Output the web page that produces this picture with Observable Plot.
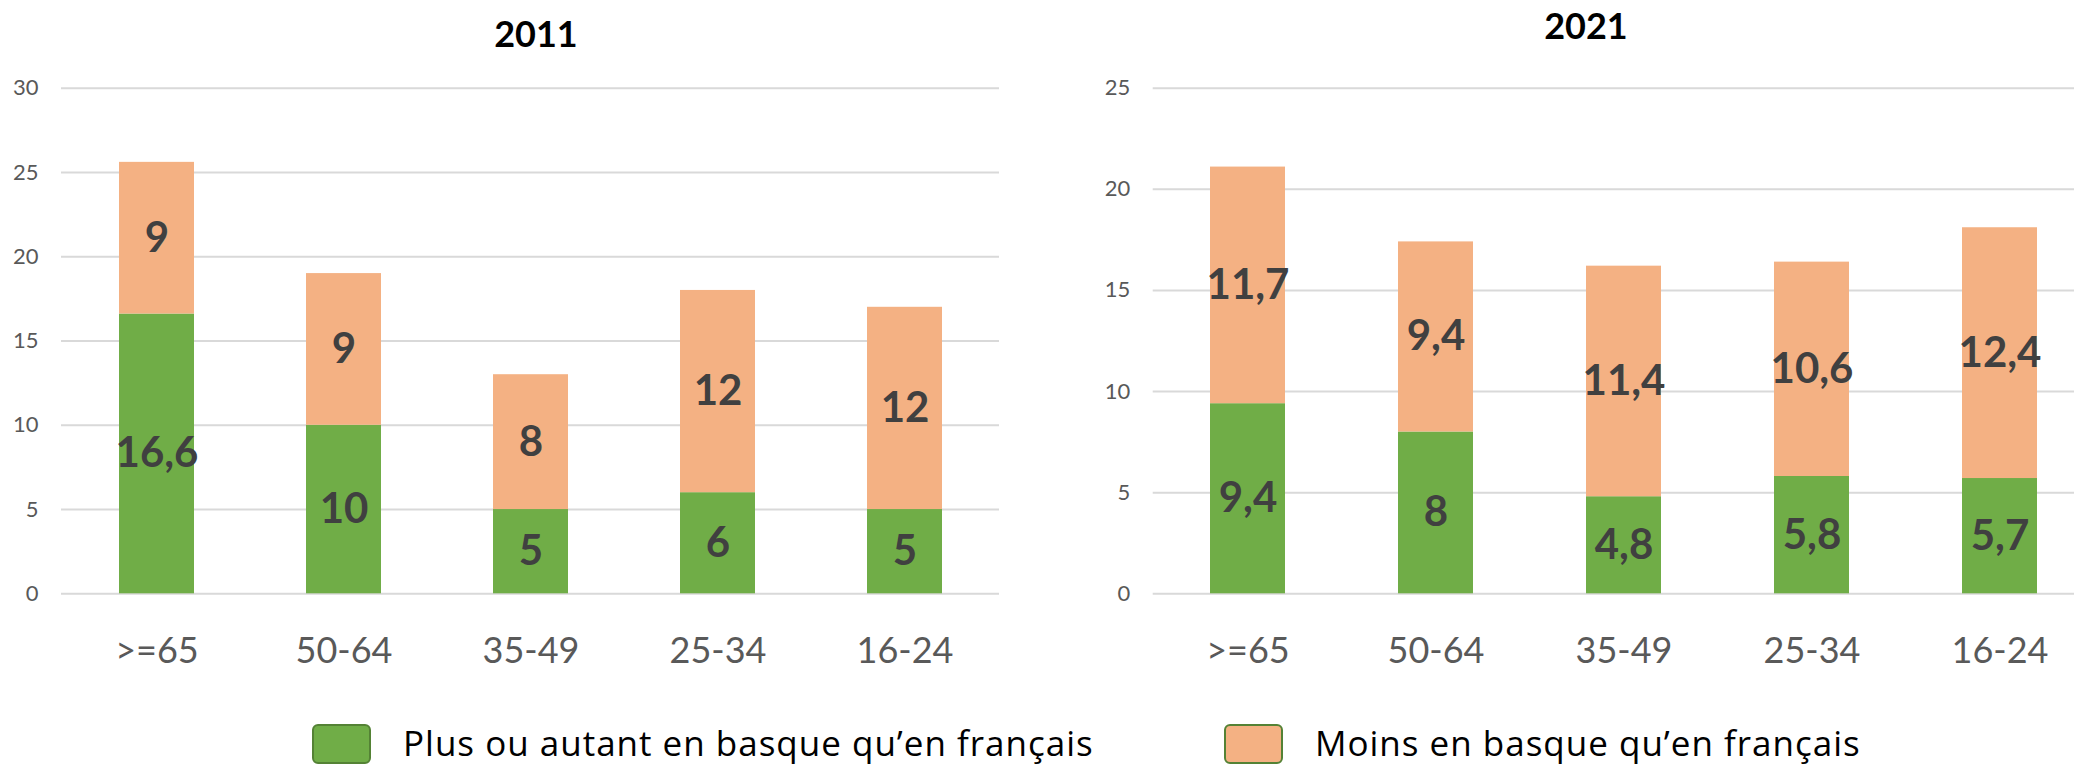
<!DOCTYPE html>
<html><head><meta charset="utf-8">
<script src="https://cdn.jsdelivr.net/npm/d3@7"></script>
<script src="https://cdn.jsdelivr.net/npm/@observablehq/plot@0.6"></script>
<style>
html,body{margin:0;padding:0;background:#fff;}
#root{position:relative;width:2074px;height:765px;overflow:hidden;background:#fff;font-family:Lato,sans-serif;}
.abs{position:absolute;}
.title{position:absolute;font-weight:700;font-size:36px;color:#000;transform:translate(-50%,-50%);line-height:1;white-space:nowrap;}
.sw{position:absolute;box-sizing:border-box;width:59px;height:40px;border:2px solid #548235;border-radius:6px;}
.lt{position:absolute;font-family:"Open Sans",sans-serif;font-size:35px;letter-spacing:1px;color:#000;line-height:1;transform:translateY(-50%);white-space:nowrap;}
</style></head><body>
<div id="root">
  <div id="c1" class="abs" style="left:0;top:0;width:1010px;height:680px"></div>
  <div id="c2" class="abs" style="left:1040px;top:0;width:1060px;height:680px"></div>
  <div id="t1" class="title" style="left:536px;top:33px"></div>
  <div id="t2" class="title" style="left:1586px;top:25px"></div>
  <div id="sw1" class="sw" style="left:312px;top:724px"></div>
  <div id="lt1" class="lt" style="left:403px;top:742px"></div>
  <div id="sw2" class="sw" style="left:1224px;top:724px"></div>
  <div id="lt2" class="lt" style="left:1315px;top:742px"></div>
</div>
<script>
const years = ["2011", "2021"];
const ages = [">=65", "50-64", "35-49", "25-34", "16-24"];
const series = ["Plus ou autant en basque qu’en français", "Moins en basque qu’en français"];
const green2011 = [16.6, 10, 5, 6, 5];
const orange2011 = [9, 9, 8, 12, 12];
const green2021 = [9.4, 8, 4.8, 5.8, 5.7];
const orange2021 = [11.7, 9.4, 11.4, 10.6, 12.4];
const ticks2011 = [0, 5, 10, 15, 20, 25, 30];
const ticks2021 = [0, 5, 10, 15, 20, 25];
const colors = ["#70ad47", "#f4b183"];

const fmt = v => String(v).replace(".", ",");

function chart(green, orange, ticks, o) {
  const data = [];
  ages.forEach((a, i) => data.push({age: a, series: series[0], value: green[i]}));
  ages.forEach((a, i) => data.push({age: a, series: series[1], value: orange[i]}));
  const yMax = ticks[ticks.length - 1];
  return Plot.plot({
    width: o.width, height: 680,
    marginLeft: o.ml, marginRight: o.mr, marginTop: 87.7, marginBottom: 86.7,
    style: {fontFamily: "Lato, sans-serif", background: "transparent", overflow: "visible", maxWidth: "none"},
    x: {domain: ages, paddingInner: 0.6, paddingOuter: 0.3, axis: null, label: null},
    y: {domain: [0, yMax], axis: null, label: null},
    color: {domain: series, range: colors},
    marks: [
      Plot.gridY(ticks, {stroke: "#d9d9d9", strokeWidth: 2, strokeOpacity: 1}),
      Plot.barY(data, {x: "age", y: "value", z: "series", fill: "series"}),
      Plot.text(data, Plot.stackY({x: "age", y: "value", z: "series", text: d => fmt(d.value),
        fill: "#404040", fontSize: 42, fontWeight: "bold"})),
      Plot.axisY(ticks, {tickSize: 0, tickPadding: 23, fontSize: 22, color: "#595959", label: null}),
      Plot.axisX({tickSize: 0, tickPadding: 44, fontSize: 36, color: "#595959", label: null})
    ]
  });
}

document.getElementById("c1").append(chart(green2011, orange2011, ticks2011, {width: 1010, ml: 61, mr: 11}));
document.getElementById("c2").append(chart(green2021, orange2021, ticks2021, {width: 1060, ml: 112.7, mr: 5.5}));
document.getElementById("t1").textContent = years[0];
document.getElementById("t2").textContent = years[1];
document.getElementById("sw1").style.background = colors[0];
document.getElementById("sw2").style.background = colors[1];
document.getElementById("lt1").textContent = series[0];
document.getElementById("lt2").textContent = series[1];
</script>
</body></html>
